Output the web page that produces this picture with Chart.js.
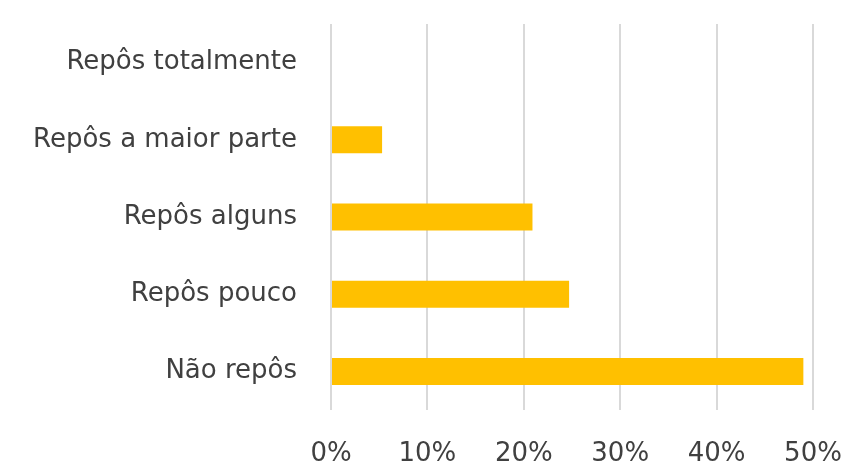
<!DOCTYPE html>
<html>
<head>
<meta charset="utf-8">
<script src="https://cdn.jsdelivr.net/npm/chart.js@4"></script>
<style>
  html,body{margin:0;padding:0;background:#fff;}
  #wrap{width:843px;height:469px;}
</style>
</head>
<body>
<div id="wrap"><canvas id="chart" width="843" height="469"></canvas></div>
<script>
// ---- data ----
const categories = ['Repôs totalmente','Repôs a maior parte','Repôs alguns','Repôs pouco','Não repôs'];
const shares     = [0, 0.053, 0.209, 0.247, 0.49];
const xTicks     = [0, 0.1, 0.2, 0.3, 0.4, 0.5];

const textColor = '#404040';
const gold = '#FFC000';

new Chart(document.getElementById('chart'), {
  type: 'bar',
  data: {
    labels: categories,
    datasets: [{
      data: shares,
      backgroundColor: gold,
      borderWidth: 0,
      barPercentage: 0.35,
      categoryPercentage: 1
    }]
  },
  options: {
    indexAxis: 'y',
    responsive: false,
    animation: false,
    layout: {padding: {top: 24, right: 30, left: 0, bottom: 0}},
    plugins: {legend: {display: false}, tooltip: {enabled: false}},
    scales: {
      x: {
        min: 0, max: 0.5,
        afterBuildTicks: s => { s.ticks = xTicks.map(v => ({value: v})); },
        afterFit: s => { s.height = 59; s.paddingLeft = 0; s.paddingRight = 0; },
        grid: {color: '#d9d9d9', lineWidth: 2, drawTicks: false},
        border: {display: false},
        ticks: {
          color: textColor, padding: 29,
          font: {family: 'DejaVu Sans', size: 26},
          callback: v => Math.round(v * 100) + '%'
        }
      },
      y: {
        afterFit: s => { s.width = 331; s.paddingTop = 0; s.paddingBottom = 0; },
        grid: {display: false},
        border: {display: false},
        ticks: {
          color: textColor, padding: 26,
          font: {family: 'DejaVu Sans', size: 26}
        }
      }
    }
  }
});
</script>
</body>
</html>
